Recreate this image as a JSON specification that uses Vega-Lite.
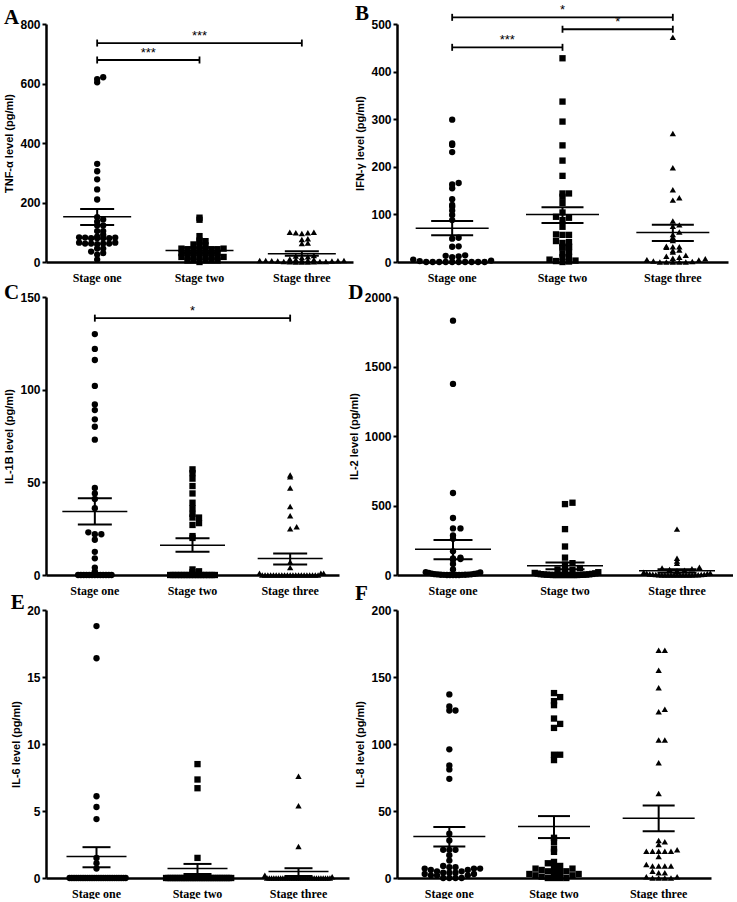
{
"$schema":"https://vega.github.io/schema/vega-lite/v6.json",
"background":"white",
"padding":{"left":3,"top":3,"right":0,"bottom":0},
"config":{
 "view":{"stroke":null},
 "font":"Liberation Sans",
 "axis":{"grid":false,"domainColor":"#000","domainWidth":2.5,"tickColor":"#000","labelColor":"#000","titleColor":"#000"},
 "axisY":{"tickSize":4,"tickWidth":2,"labelFont":"Liberation Sans","labelFontWeight":"bold","labelFontSize":12,"labelPadding":2,"titleFont":"Liberation Sans","titleFontWeight":"bold","titleFontSize":11,"titlePadding":5},
 "axisX":{"ticks":false,"labelFont":"Liberation Serif","labelFontWeight":"bold","labelFontSize":12,"labelPadding":10,"labelAngle":0},
 "title":{"font":"Liberation Serif","fontSize":21,"fontWeight":"bold","anchor":"start","frame":"bounds","offset":0,"color":"#000"}
},
"datasets":{
"summ":[
{"p":"A","g":"Stage one","mean":152,"lo":124,"hi":178},
{"p":"A","g":"Stage two","mean":39,"lo":30,"hi":48},
{"p":"A","g":"Stage three","mean":28,"lo":21,"hi":36},
{"p":"B","g":"Stage one","mean":71,"lo":56,"hi":86},
{"p":"B","g":"Stage two","mean":100,"lo":82,"hi":115},
{"p":"B","g":"Stage three","mean":62,"lo":44,"hi":78},
{"p":"C","g":"Stage one","mean":34.3,"lo":27.2,"hi":41.4},
{"p":"C","g":"Stage two","mean":16.1,"lo":12.5,"hi":19.8},
{"p":"C","g":"Stage three","mean":8.9,"lo":5.6,"hi":11.6},
{"p":"D","g":"Stage one","mean":185,"lo":113,"hi":252},
{"p":"D","g":"Stage two","mean":66,"lo":42,"hi":90},
{"p":"D","g":"Stage three","mean":30,"lo":17,"hi":42},
{"p":"E","g":"Stage one","mean":1.6,"lo":0.8,"hi":2.3},
{"p":"E","g":"Stage two","mean":0.7,"lo":0.3,"hi":1.05},
{"p":"E","g":"Stage three","mean":0.48,"lo":0.15,"hi":0.73},
{"p":"F","g":"Stage one","mean":31,"lo":23.6,"hi":38.1},
{"p":"F","g":"Stage two","mean":38.4,"lo":29.8,"hi":46.2},
{"p":"F","g":"Stage three","mean":44.5,"lo":34.9,"hi":54.1}
],
"brk":[
{"p":"A","from":1,"to":3,"y":736,"label":"***"},
{"p":"A","from":1,"to":2,"y":679,"label":"***"},
{"p":"B","from":1,"to":3,"y":514,"label":"*"},
{"p":"B","from":2,"to":3,"y":489,"label":"*"},
{"p":"B","from":1,"to":2,"y":451,"label":"***"},
{"p":"C","from":1,"to":3,"y":138.6,"label":"*"}
],
"pts":[
{"p":"A","g":"Stage one","v":621},{"p":"A","g":"Stage one","v":615},{"p":"A","g":"Stage one","v":604},{"p":"A","g":"Stage one","v":330},{"p":"A","g":"Stage one","v":305},{"p":"A","g":"Stage one","v":278},{"p":"A","g":"Stage one","v":244},{"p":"A","g":"Stage one","v":210},{"p":"A","g":"Stage one","v":151},{"p":"A","g":"Stage one","v":143},{"p":"A","g":"Stage one","v":136},{"p":"A","g":"Stage one","v":123},{"p":"A","g":"Stage one","v":123},{"p":"A","g":"Stage one","v":104},{"p":"A","g":"Stage one","v":104},{"p":"A","g":"Stage one","v":92},{"p":"A","g":"Stage one","v":85},{"p":"A","g":"Stage one","v":83},{"p":"A","g":"Stage one","v":82},{"p":"A","g":"Stage one","v":82},{"p":"A","g":"Stage one","v":80},{"p":"A","g":"Stage one","v":80},{"p":"A","g":"Stage one","v":80},{"p":"A","g":"Stage one","v":80},{"p":"A","g":"Stage one","v":65},{"p":"A","g":"Stage one","v":65},{"p":"A","g":"Stage one","v":62},{"p":"A","g":"Stage one","v":62},{"p":"A","g":"Stage one","v":62},{"p":"A","g":"Stage one","v":62},{"p":"A","g":"Stage one","v":60},{"p":"A","g":"Stage one","v":45},{"p":"A","g":"Stage one","v":45},{"p":"A","g":"Stage one","v":35},{"p":"A","g":"Stage one","v":30},{"p":"A","g":"Stage one","v":25},{"p":"A","g":"Stage one","v":8},
{"p":"A","g":"Stage two","v":149},{"p":"A","g":"Stage two","v":142},{"p":"A","g":"Stage two","v":87},{"p":"A","g":"Stage two","v":72},{"p":"A","g":"Stage two","v":70},{"p":"A","g":"Stage two","v":67},{"p":"A","g":"Stage two","v":59},{"p":"A","g":"Stage two","v":56},{"p":"A","g":"Stage two","v":52},{"p":"A","g":"Stage two","v":45},{"p":"A","g":"Stage two","v":45},{"p":"A","g":"Stage two","v":43},{"p":"A","g":"Stage two","v":43},{"p":"A","g":"Stage two","v":43},{"p":"A","g":"Stage two","v":43},{"p":"A","g":"Stage two","v":43},{"p":"A","g":"Stage two","v":40},{"p":"A","g":"Stage two","v":30},{"p":"A","g":"Stage two","v":30},{"p":"A","g":"Stage two","v":30},{"p":"A","g":"Stage two","v":30},{"p":"A","g":"Stage two","v":30},{"p":"A","g":"Stage two","v":30},{"p":"A","g":"Stage two","v":30},{"p":"A","g":"Stage two","v":17},{"p":"A","g":"Stage two","v":17},{"p":"A","g":"Stage two","v":17},{"p":"A","g":"Stage two","v":17},{"p":"A","g":"Stage two","v":17},{"p":"A","g":"Stage two","v":17},{"p":"A","g":"Stage two","v":17},{"p":"A","g":"Stage two","v":17},{"p":"A","g":"Stage two","v":5},{"p":"A","g":"Stage two","v":5},{"p":"A","g":"Stage two","v":5},{"p":"A","g":"Stage two","v":5},{"p":"A","g":"Stage two","v":5},{"p":"A","g":"Stage two","v":0},
{"p":"A","g":"Stage three","v":100},{"p":"A","g":"Stage three","v":100},{"p":"A","g":"Stage three","v":98},{"p":"A","g":"Stage three","v":98},{"p":"A","g":"Stage three","v":96},{"p":"A","g":"Stage three","v":78},{"p":"A","g":"Stage three","v":76},{"p":"A","g":"Stage three","v":64},{"p":"A","g":"Stage three","v":62},{"p":"A","g":"Stage three","v":22},{"p":"A","g":"Stage three","v":20},{"p":"A","g":"Stage three","v":18},{"p":"A","g":"Stage three","v":15},{"p":"A","g":"Stage three","v":10},{"p":"A","g":"Stage three","v":8},{"p":"A","g":"Stage three","v":8},{"p":"A","g":"Stage three","v":6},{"p":"A","g":"Stage three","v":6},{"p":"A","g":"Stage three","v":5},{"p":"A","g":"Stage three","v":5},{"p":"A","g":"Stage three","v":5},{"p":"A","g":"Stage three","v":4},{"p":"A","g":"Stage three","v":4},{"p":"A","g":"Stage three","v":3},{"p":"A","g":"Stage three","v":3},{"p":"A","g":"Stage three","v":2},{"p":"A","g":"Stage three","v":2},{"p":"A","g":"Stage three","v":2},{"p":"A","g":"Stage three","v":1},{"p":"A","g":"Stage three","v":1},{"p":"A","g":"Stage three","v":0},{"p":"A","g":"Stage three","v":0},{"p":"A","g":"Stage three","v":0},
{"p":"B","g":"Stage one","v":299},{"p":"B","g":"Stage one","v":249},{"p":"B","g":"Stage one","v":246},{"p":"B","g":"Stage one","v":231},{"p":"B","g":"Stage one","v":166},{"p":"B","g":"Stage one","v":163},{"p":"B","g":"Stage one","v":155},{"p":"B","g":"Stage one","v":132},{"p":"B","g":"Stage one","v":120},{"p":"B","g":"Stage one","v":116},{"p":"B","g":"Stage one","v":108},{"p":"B","g":"Stage one","v":99},{"p":"B","g":"Stage one","v":88},{"p":"B","g":"Stage one","v":51},{"p":"B","g":"Stage one","v":49},{"p":"B","g":"Stage one","v":33},{"p":"B","g":"Stage one","v":32},{"p":"B","g":"Stage one","v":14},{"p":"B","g":"Stage one","v":13},{"p":"B","g":"Stage one","v":12},{"p":"B","g":"Stage one","v":10},{"p":"B","g":"Stage one","v":5},{"p":"B","g":"Stage one","v":3},{"p":"B","g":"Stage one","v":2},{"p":"B","g":"Stage one","v":0},{"p":"B","g":"Stage one","v":0},{"p":"B","g":"Stage one","v":0},{"p":"B","g":"Stage one","v":0},{"p":"B","g":"Stage one","v":0},{"p":"B","g":"Stage one","v":0},{"p":"B","g":"Stage one","v":0},{"p":"B","g":"Stage one","v":0},{"p":"B","g":"Stage one","v":0},{"p":"B","g":"Stage one","v":0},
{"p":"B","g":"Stage two","v":428},{"p":"B","g":"Stage two","v":337},{"p":"B","g":"Stage two","v":295},{"p":"B","g":"Stage two","v":245},{"p":"B","g":"Stage two","v":213},{"p":"B","g":"Stage two","v":181},{"p":"B","g":"Stage two","v":144},{"p":"B","g":"Stage two","v":144},{"p":"B","g":"Stage two","v":137},{"p":"B","g":"Stage two","v":124},{"p":"B","g":"Stage two","v":104},{"p":"B","g":"Stage two","v":95},{"p":"B","g":"Stage two","v":93},{"p":"B","g":"Stage two","v":88},{"p":"B","g":"Stage two","v":74},{"p":"B","g":"Stage two","v":58},{"p":"B","g":"Stage two","v":57},{"p":"B","g":"Stage two","v":57},{"p":"B","g":"Stage two","v":44},{"p":"B","g":"Stage two","v":42},{"p":"B","g":"Stage two","v":40},{"p":"B","g":"Stage two","v":33},{"p":"B","g":"Stage two","v":32},{"p":"B","g":"Stage two","v":31},{"p":"B","g":"Stage two","v":30},{"p":"B","g":"Stage two","v":21},{"p":"B","g":"Stage two","v":18},{"p":"B","g":"Stage two","v":11},{"p":"B","g":"Stage two","v":10},{"p":"B","g":"Stage two","v":5},{"p":"B","g":"Stage two","v":3},{"p":"B","g":"Stage two","v":2},{"p":"B","g":"Stage two","v":1},{"p":"B","g":"Stage two","v":0},
{"p":"B","g":"Stage three","v":472},{"p":"B","g":"Stage three","v":270},{"p":"B","g":"Stage three","v":198},{"p":"B","g":"Stage three","v":152},{"p":"B","g":"Stage three","v":135},{"p":"B","g":"Stage three","v":130},{"p":"B","g":"Stage three","v":86},{"p":"B","g":"Stage three","v":78},{"p":"B","g":"Stage three","v":75},{"p":"B","g":"Stage three","v":63},{"p":"B","g":"Stage three","v":58},{"p":"B","g":"Stage three","v":52},{"p":"B","g":"Stage three","v":45},{"p":"B","g":"Stage three","v":33},{"p":"B","g":"Stage three","v":32},{"p":"B","g":"Stage three","v":32},{"p":"B","g":"Stage three","v":31},{"p":"B","g":"Stage three","v":25},{"p":"B","g":"Stage three","v":24},{"p":"B","g":"Stage three","v":21},{"p":"B","g":"Stage three","v":14},{"p":"B","g":"Stage three","v":12},{"p":"B","g":"Stage three","v":10},{"p":"B","g":"Stage three","v":8},{"p":"B","g":"Stage three","v":7},{"p":"B","g":"Stage three","v":5},{"p":"B","g":"Stage three","v":4},{"p":"B","g":"Stage three","v":2},{"p":"B","g":"Stage three","v":1},{"p":"B","g":"Stage three","v":0},{"p":"B","g":"Stage three","v":0},{"p":"B","g":"Stage three","v":0},{"p":"B","g":"Stage three","v":0},{"p":"B","g":"Stage three","v":0},
{"p":"C","g":"Stage one","v":130},{"p":"C","g":"Stage one","v":122},{"p":"C","g":"Stage one","v":116},{"p":"C","g":"Stage one","v":102},{"p":"C","g":"Stage one","v":92},{"p":"C","g":"Stage one","v":89},{"p":"C","g":"Stage one","v":84},{"p":"C","g":"Stage one","v":80},{"p":"C","g":"Stage one","v":73},{"p":"C","g":"Stage one","v":47},{"p":"C","g":"Stage one","v":44},{"p":"C","g":"Stage one","v":41},{"p":"C","g":"Stage one","v":36},{"p":"C","g":"Stage one","v":23},{"p":"C","g":"Stage one","v":22},{"p":"C","g":"Stage one","v":22},{"p":"C","g":"Stage one","v":19},{"p":"C","g":"Stage one","v":12.5},{"p":"C","g":"Stage one","v":9},{"p":"C","g":"Stage one","v":4},{"p":"C","g":"Stage one","v":2},{"p":"C","g":"Stage one","v":0},{"p":"C","g":"Stage one","v":0},{"p":"C","g":"Stage one","v":0},{"p":"C","g":"Stage one","v":0},{"p":"C","g":"Stage one","v":0},{"p":"C","g":"Stage one","v":0},{"p":"C","g":"Stage one","v":0},{"p":"C","g":"Stage one","v":0},{"p":"C","g":"Stage one","v":0},{"p":"C","g":"Stage one","v":0},{"p":"C","g":"Stage one","v":0},{"p":"C","g":"Stage one","v":0},{"p":"C","g":"Stage one","v":0},
{"p":"C","g":"Stage two","v":57},{"p":"C","g":"Stage two","v":55},{"p":"C","g":"Stage two","v":52},{"p":"C","g":"Stage two","v":48},{"p":"C","g":"Stage two","v":44},{"p":"C","g":"Stage two","v":39},{"p":"C","g":"Stage two","v":36},{"p":"C","g":"Stage two","v":33},{"p":"C","g":"Stage two","v":31},{"p":"C","g":"Stage two","v":31},{"p":"C","g":"Stage two","v":28},{"p":"C","g":"Stage two","v":27},{"p":"C","g":"Stage two","v":21},{"p":"C","g":"Stage two","v":20},{"p":"C","g":"Stage two","v":3},{"p":"C","g":"Stage two","v":2},{"p":"C","g":"Stage two","v":1.5},{"p":"C","g":"Stage two","v":0},{"p":"C","g":"Stage two","v":0},{"p":"C","g":"Stage two","v":0},{"p":"C","g":"Stage two","v":0},{"p":"C","g":"Stage two","v":0},{"p":"C","g":"Stage two","v":0},{"p":"C","g":"Stage two","v":0},{"p":"C","g":"Stage two","v":0},{"p":"C","g":"Stage two","v":0},{"p":"C","g":"Stage two","v":0},{"p":"C","g":"Stage two","v":0},{"p":"C","g":"Stage two","v":0},{"p":"C","g":"Stage two","v":0},{"p":"C","g":"Stage two","v":0},{"p":"C","g":"Stage two","v":0},{"p":"C","g":"Stage two","v":0},{"p":"C","g":"Stage two","v":0},
{"p":"C","g":"Stage three","v":54},{"p":"C","g":"Stage three","v":53},{"p":"C","g":"Stage three","v":47},{"p":"C","g":"Stage three","v":37},{"p":"C","g":"Stage three","v":32},{"p":"C","g":"Stage three","v":26},{"p":"C","g":"Stage three","v":25},{"p":"C","g":"Stage three","v":7},{"p":"C","g":"Stage three","v":4},{"p":"C","g":"Stage three","v":1},{"p":"C","g":"Stage three","v":1},{"p":"C","g":"Stage three","v":1},{"p":"C","g":"Stage three","v":0},{"p":"C","g":"Stage three","v":0},{"p":"C","g":"Stage three","v":0},{"p":"C","g":"Stage three","v":0},{"p":"C","g":"Stage three","v":0},{"p":"C","g":"Stage three","v":0},{"p":"C","g":"Stage three","v":0},{"p":"C","g":"Stage three","v":0},{"p":"C","g":"Stage three","v":0},{"p":"C","g":"Stage three","v":0},{"p":"C","g":"Stage three","v":0},{"p":"C","g":"Stage three","v":0},{"p":"C","g":"Stage three","v":0},{"p":"C","g":"Stage three","v":0},{"p":"C","g":"Stage three","v":0},{"p":"C","g":"Stage three","v":0},{"p":"C","g":"Stage three","v":0},{"p":"C","g":"Stage three","v":0},{"p":"C","g":"Stage three","v":0},{"p":"C","g":"Stage three","v":0},{"p":"C","g":"Stage three","v":0},
{"p":"D","g":"Stage one","v":1830},{"p":"D","g":"Stage one","v":1375},{"p":"D","g":"Stage one","v":590},{"p":"D","g":"Stage one","v":410},{"p":"D","g":"Stage one","v":335},{"p":"D","g":"Stage one","v":335},{"p":"D","g":"Stage one","v":285},{"p":"D","g":"Stage one","v":260},{"p":"D","g":"Stage one","v":170},{"p":"D","g":"Stage one","v":125},{"p":"D","g":"Stage one","v":120},{"p":"D","g":"Stage one","v":115},{"p":"D","g":"Stage one","v":110},{"p":"D","g":"Stage one","v":80},{"p":"D","g":"Stage one","v":40},{"p":"D","g":"Stage one","v":20},{"p":"D","g":"Stage one","v":18},{"p":"D","g":"Stage one","v":15},{"p":"D","g":"Stage one","v":12},{"p":"D","g":"Stage one","v":10},{"p":"D","g":"Stage one","v":8},{"p":"D","g":"Stage one","v":6},{"p":"D","g":"Stage one","v":5},{"p":"D","g":"Stage one","v":4},{"p":"D","g":"Stage one","v":3},{"p":"D","g":"Stage one","v":2},{"p":"D","g":"Stage one","v":2},{"p":"D","g":"Stage one","v":1},{"p":"D","g":"Stage one","v":1},{"p":"D","g":"Stage one","v":0},{"p":"D","g":"Stage one","v":0},{"p":"D","g":"Stage one","v":0},{"p":"D","g":"Stage one","v":0},{"p":"D","g":"Stage one","v":0},
{"p":"D","g":"Stage two","v":520},{"p":"D","g":"Stage two","v":510},{"p":"D","g":"Stage two","v":330},{"p":"D","g":"Stage two","v":205},{"p":"D","g":"Stage two","v":125},{"p":"D","g":"Stage two","v":85},{"p":"D","g":"Stage two","v":75},{"p":"D","g":"Stage two","v":50},{"p":"D","g":"Stage two","v":40},{"p":"D","g":"Stage two","v":35},{"p":"D","g":"Stage two","v":35},{"p":"D","g":"Stage two","v":25},{"p":"D","g":"Stage two","v":20},{"p":"D","g":"Stage two","v":15},{"p":"D","g":"Stage two","v":12},{"p":"D","g":"Stage two","v":10},{"p":"D","g":"Stage two","v":8},{"p":"D","g":"Stage two","v":6},{"p":"D","g":"Stage two","v":5},{"p":"D","g":"Stage two","v":4},{"p":"D","g":"Stage two","v":3},{"p":"D","g":"Stage two","v":2},{"p":"D","g":"Stage two","v":2},{"p":"D","g":"Stage two","v":1},{"p":"D","g":"Stage two","v":1},{"p":"D","g":"Stage two","v":0},{"p":"D","g":"Stage two","v":0},{"p":"D","g":"Stage two","v":0},{"p":"D","g":"Stage two","v":0},{"p":"D","g":"Stage two","v":0},{"p":"D","g":"Stage two","v":0},{"p":"D","g":"Stage two","v":0},{"p":"D","g":"Stage two","v":0},{"p":"D","g":"Stage two","v":0},
{"p":"D","g":"Stage three","v":330},{"p":"D","g":"Stage three","v":120},{"p":"D","g":"Stage three","v":100},{"p":"D","g":"Stage three","v":85},{"p":"D","g":"Stage three","v":55},{"p":"D","g":"Stage three","v":50},{"p":"D","g":"Stage three","v":45},{"p":"D","g":"Stage three","v":40},{"p":"D","g":"Stage three","v":35},{"p":"D","g":"Stage three","v":30},{"p":"D","g":"Stage three","v":25},{"p":"D","g":"Stage three","v":20},{"p":"D","g":"Stage three","v":15},{"p":"D","g":"Stage three","v":12},{"p":"D","g":"Stage three","v":10},{"p":"D","g":"Stage three","v":8},{"p":"D","g":"Stage three","v":6},{"p":"D","g":"Stage three","v":5},{"p":"D","g":"Stage three","v":4},{"p":"D","g":"Stage three","v":3},{"p":"D","g":"Stage three","v":2},{"p":"D","g":"Stage three","v":1},{"p":"D","g":"Stage three","v":1},{"p":"D","g":"Stage three","v":0},{"p":"D","g":"Stage three","v":0},{"p":"D","g":"Stage three","v":0},{"p":"D","g":"Stage three","v":0},{"p":"D","g":"Stage three","v":0},{"p":"D","g":"Stage three","v":0},{"p":"D","g":"Stage three","v":0},{"p":"D","g":"Stage three","v":0},{"p":"D","g":"Stage three","v":0},{"p":"D","g":"Stage three","v":0},{"p":"D","g":"Stage three","v":0},
{"p":"E","g":"Stage one","v":18.8},{"p":"E","g":"Stage one","v":16.4},{"p":"E","g":"Stage one","v":6.1},{"p":"E","g":"Stage one","v":5.3},{"p":"E","g":"Stage one","v":4.4},{"p":"E","g":"Stage one","v":1.5},{"p":"E","g":"Stage one","v":1.1},{"p":"E","g":"Stage one","v":0.7},{"p":"E","g":"Stage one","v":0},{"p":"E","g":"Stage one","v":0},{"p":"E","g":"Stage one","v":0},{"p":"E","g":"Stage one","v":0},{"p":"E","g":"Stage one","v":0},{"p":"E","g":"Stage one","v":0},{"p":"E","g":"Stage one","v":0},{"p":"E","g":"Stage one","v":0},{"p":"E","g":"Stage one","v":0},{"p":"E","g":"Stage one","v":0},{"p":"E","g":"Stage one","v":0},{"p":"E","g":"Stage one","v":0},{"p":"E","g":"Stage one","v":0},{"p":"E","g":"Stage one","v":0},{"p":"E","g":"Stage one","v":0},{"p":"E","g":"Stage one","v":0},{"p":"E","g":"Stage one","v":0},{"p":"E","g":"Stage one","v":0},{"p":"E","g":"Stage one","v":0},{"p":"E","g":"Stage one","v":0},{"p":"E","g":"Stage one","v":0},{"p":"E","g":"Stage one","v":0},{"p":"E","g":"Stage one","v":0},{"p":"E","g":"Stage one","v":0},{"p":"E","g":"Stage one","v":0},{"p":"E","g":"Stage one","v":0},
{"p":"E","g":"Stage two","v":8.5},{"p":"E","g":"Stage two","v":7.35},{"p":"E","g":"Stage two","v":6.7},{"p":"E","g":"Stage two","v":1.5},{"p":"E","g":"Stage two","v":0},{"p":"E","g":"Stage two","v":0},{"p":"E","g":"Stage two","v":0},{"p":"E","g":"Stage two","v":0},{"p":"E","g":"Stage two","v":0},{"p":"E","g":"Stage two","v":0},{"p":"E","g":"Stage two","v":0},{"p":"E","g":"Stage two","v":0},{"p":"E","g":"Stage two","v":0},{"p":"E","g":"Stage two","v":0},{"p":"E","g":"Stage two","v":0},{"p":"E","g":"Stage two","v":0},{"p":"E","g":"Stage two","v":0},{"p":"E","g":"Stage two","v":0},{"p":"E","g":"Stage two","v":0},{"p":"E","g":"Stage two","v":0},{"p":"E","g":"Stage two","v":0},{"p":"E","g":"Stage two","v":0},{"p":"E","g":"Stage two","v":0},{"p":"E","g":"Stage two","v":0},{"p":"E","g":"Stage two","v":0},{"p":"E","g":"Stage two","v":0},{"p":"E","g":"Stage two","v":0},{"p":"E","g":"Stage two","v":0},{"p":"E","g":"Stage two","v":0},{"p":"E","g":"Stage two","v":0},{"p":"E","g":"Stage two","v":0},{"p":"E","g":"Stage two","v":0},{"p":"E","g":"Stage two","v":0},{"p":"E","g":"Stage two","v":0},
{"p":"E","g":"Stage three","v":7.6},{"p":"E","g":"Stage three","v":5.4},{"p":"E","g":"Stage three","v":2.35},{"p":"E","g":"Stage three","v":0.2},{"p":"E","g":"Stage three","v":0.1},{"p":"E","g":"Stage three","v":0},{"p":"E","g":"Stage three","v":0},{"p":"E","g":"Stage three","v":0},{"p":"E","g":"Stage three","v":0},{"p":"E","g":"Stage three","v":0},{"p":"E","g":"Stage three","v":0},{"p":"E","g":"Stage three","v":0},{"p":"E","g":"Stage three","v":0},{"p":"E","g":"Stage three","v":0},{"p":"E","g":"Stage three","v":0},{"p":"E","g":"Stage three","v":0},{"p":"E","g":"Stage three","v":0},{"p":"E","g":"Stage three","v":0},{"p":"E","g":"Stage three","v":0},{"p":"E","g":"Stage three","v":0},{"p":"E","g":"Stage three","v":0},{"p":"E","g":"Stage three","v":0},{"p":"E","g":"Stage three","v":0},{"p":"E","g":"Stage three","v":0},{"p":"E","g":"Stage three","v":0},{"p":"E","g":"Stage three","v":0},{"p":"E","g":"Stage three","v":0},{"p":"E","g":"Stage three","v":0},{"p":"E","g":"Stage three","v":0},{"p":"E","g":"Stage three","v":0},{"p":"E","g":"Stage three","v":0},{"p":"E","g":"Stage three","v":0},{"p":"E","g":"Stage three","v":0},{"p":"E","g":"Stage three","v":0},
{"p":"F","g":"Stage one","v":137},{"p":"F","g":"Stage one","v":128},{"p":"F","g":"Stage one","v":125},{"p":"F","g":"Stage one","v":125},{"p":"F","g":"Stage one","v":96},{"p":"F","g":"Stage one","v":84},{"p":"F","g":"Stage one","v":81},{"p":"F","g":"Stage one","v":74},{"p":"F","g":"Stage one","v":33},{"p":"F","g":"Stage one","v":28},{"p":"F","g":"Stage one","v":21},{"p":"F","g":"Stage one","v":21},{"p":"F","g":"Stage one","v":21},{"p":"F","g":"Stage one","v":17},{"p":"F","g":"Stage one","v":13},{"p":"F","g":"Stage one","v":9},{"p":"F","g":"Stage one","v":8},{"p":"F","g":"Stage one","v":8},{"p":"F","g":"Stage one","v":7},{"p":"F","g":"Stage one","v":7},{"p":"F","g":"Stage one","v":7},{"p":"F","g":"Stage one","v":6},{"p":"F","g":"Stage one","v":6},{"p":"F","g":"Stage one","v":5},{"p":"F","g":"Stage one","v":5},{"p":"F","g":"Stage one","v":4},{"p":"F","g":"Stage one","v":4},{"p":"F","g":"Stage one","v":4},{"p":"F","g":"Stage one","v":3},{"p":"F","g":"Stage one","v":3},{"p":"F","g":"Stage one","v":2},{"p":"F","g":"Stage one","v":2},{"p":"F","g":"Stage one","v":2},{"p":"F","g":"Stage one","v":0},{"p":"F","g":"Stage one","v":0},{"p":"F","g":"Stage one","v":0},{"p":"F","g":"Stage one","v":0},
{"p":"F","g":"Stage two","v":138},{"p":"F","g":"Stage two","v":135},{"p":"F","g":"Stage two","v":132},{"p":"F","g":"Stage two","v":129},{"p":"F","g":"Stage two","v":119},{"p":"F","g":"Stage two","v":115},{"p":"F","g":"Stage two","v":112},{"p":"F","g":"Stage two","v":92},{"p":"F","g":"Stage two","v":92},{"p":"F","g":"Stage two","v":88},{"p":"F","g":"Stage two","v":30},{"p":"F","g":"Stage two","v":27},{"p":"F","g":"Stage two","v":22},{"p":"F","g":"Stage two","v":19.5},{"p":"F","g":"Stage two","v":12},{"p":"F","g":"Stage two","v":11},{"p":"F","g":"Stage two","v":9},{"p":"F","g":"Stage two","v":8},{"p":"F","g":"Stage two","v":7},{"p":"F","g":"Stage two","v":7},{"p":"F","g":"Stage two","v":6},{"p":"F","g":"Stage two","v":5},{"p":"F","g":"Stage two","v":5},{"p":"F","g":"Stage two","v":4.5},{"p":"F","g":"Stage two","v":4},{"p":"F","g":"Stage two","v":3},{"p":"F","g":"Stage two","v":3},{"p":"F","g":"Stage two","v":2},{"p":"F","g":"Stage two","v":2},{"p":"F","g":"Stage two","v":1},{"p":"F","g":"Stage two","v":0},{"p":"F","g":"Stage two","v":0},{"p":"F","g":"Stage two","v":0},{"p":"F","g":"Stage two","v":0},
{"p":"F","g":"Stage three","v":170},{"p":"F","g":"Stage three","v":170},{"p":"F","g":"Stage three","v":155},{"p":"F","g":"Stage three","v":142},{"p":"F","g":"Stage three","v":126},{"p":"F","g":"Stage three","v":124},{"p":"F","g":"Stage three","v":103},{"p":"F","g":"Stage three","v":103},{"p":"F","g":"Stage three","v":86},{"p":"F","g":"Stage three","v":63},{"p":"F","g":"Stage three","v":28},{"p":"F","g":"Stage three","v":27},{"p":"F","g":"Stage three","v":25},{"p":"F","g":"Stage three","v":21},{"p":"F","g":"Stage three","v":20},{"p":"F","g":"Stage three","v":20},{"p":"F","g":"Stage three","v":20},{"p":"F","g":"Stage three","v":20},{"p":"F","g":"Stage three","v":20},{"p":"F","g":"Stage three","v":16},{"p":"F","g":"Stage three","v":10},{"p":"F","g":"Stage three","v":9},{"p":"F","g":"Stage three","v":9},{"p":"F","g":"Stage three","v":9},{"p":"F","g":"Stage three","v":9},{"p":"F","g":"Stage three","v":5},{"p":"F","g":"Stage three","v":4},{"p":"F","g":"Stage three","v":4},{"p":"F","g":"Stage three","v":1},{"p":"F","g":"Stage three","v":1},{"p":"F","g":"Stage three","v":0},{"p":"F","g":"Stage three","v":0},{"p":"F","g":"Stage three","v":0},{"p":"F","g":"Stage three","v":0}
]
},
"bounds":"flush",
"columns":2,
"spacing":{"row":35,"column":44},
"concat":[
 {"title":{"text":"A","offset":-10},"width":307,"height":238,
  "resolve":{"scale":{"x":"independent","xOffset":"independent"}},
  "layer":[
   {"data":{"name":"pts"},
    "transform":[{"filter":"datum.p === 'A' && datum.v >= 12"},{"bin":{"step":12},"field":"v","as":"vb"},{"window":[{"op":"row_number","as":"slot"}],"groupby":["g","vb"],"sort":[{"field":"v"}]}],
    "mark":{"type":"point","filled":true,"opacity":1,"size":40,"color":"black","strokeWidth":0},
    "encoding":{
     "x":{"field":"g","type":"nominal","scale":{"type":"band","domain":["Stage one","Stage two","Stage three"],"paddingInner":0,"paddingOuter":0},"axis":{"title":null}},
     "xOffset":{"field":"slot","type":"ordinal","scale":{"domain":[17,15,13,11,9,7,5,3,1,2,4,6,8,10,12,14,16]}},
     "y":{"field":"v","type":"quantitative","scale":{"domain":[0,800],"nice":false},"axis":{"values":[0,200,400,600,800],"format":"d","title":"TNF-α level (pg/ml)"}},
     "shape":{"field":"g","type":"nominal","scale":{"domain":["Stage one","Stage two","Stage three"],"range":["circle","square","triangle-up"]},"legend":null}}},
   {"data":{"name":"pts"},
    "transform":[{"filter":"datum.p === 'A' && datum.v < 12"},{"bin":{"step":6},"field":"v","as":"vb"},{"window":[{"op":"row_number","as":"slot"}],"groupby":["g","vb"],"sort":[{"field":"v"}]}],
    "mark":{"type":"point","filled":true,"opacity":1,"size":40,"color":"black","strokeWidth":0},
    "encoding":{
     "x":{"field":"g","type":"nominal","scale":{"type":"band","domain":["Stage one","Stage two","Stage three"],"paddingInner":0,"paddingOuter":0},"axis":null},
     "xOffset":{"field":"slot","type":"ordinal","scale":{"domain":[17,15,13,11,9,7,5,3,1,2,4,6,8,10,12,14,16]}},
     "y":{"field":"v","type":"quantitative","scale":{"domain":[0,800],"nice":false},"axis":{"values":[0,200,400,600,800],"format":"d","title":"TNF-α level (pg/ml)"}},
     "shape":{"field":"g","type":"nominal","scale":{"domain":["Stage one","Stage two","Stage three"],"range":["circle","square","triangle-up"]},"legend":null}}},
   {"data":{"name":"summ"},"transform":[{"filter":"datum.p === 'A'"}],
    "mark":{"type":"tick","orient":"horizontal","size":68,"thickness":1.5,"color":"black","opacity":1},
    "encoding":{"x":{"field":"g","type":"nominal","scale":{"type":"band","domain":["Stage one","Stage two","Stage three"],"paddingInner":0,"paddingOuter":0},"axis":null},
     "y":{"field":"mean","type":"quantitative","scale":{"domain":[0,800],"nice":false},"axis":{"values":[0,200,400,600,800],"format":"d","title":"TNF-α level (pg/ml)"}}}},
   {"data":{"name":"summ"},"transform":[{"filter":"datum.p === 'A'"}],
    "mark":{"type":"tick","orient":"horizontal","size":34,"thickness":2,"color":"black","opacity":1},
    "encoding":{"x":{"field":"g","type":"nominal","scale":{"type":"band","domain":["Stage one","Stage two","Stage three"],"paddingInner":0,"paddingOuter":0},"axis":null},
     "y":{"field":"hi","type":"quantitative","scale":{"domain":[0,800],"nice":false},"axis":{"values":[0,200,400,600,800],"format":"d","title":"TNF-α level (pg/ml)"}}}},
   {"data":{"name":"summ"},"transform":[{"filter":"datum.p === 'A'"}],
    "mark":{"type":"tick","orient":"horizontal","size":34,"thickness":2,"color":"black","opacity":1},
    "encoding":{"x":{"field":"g","type":"nominal","scale":{"type":"band","domain":["Stage one","Stage two","Stage three"],"paddingInner":0,"paddingOuter":0},"axis":null},
     "y":{"field":"lo","type":"quantitative","scale":{"domain":[0,800],"nice":false},"axis":{"values":[0,200,400,600,800],"format":"d","title":"TNF-α level (pg/ml)"}}}},
   {"data":{"name":"summ"},"transform":[{"filter":"datum.p === 'A'"}],
    "mark":{"type":"rule","strokeWidth":2,"color":"black"},
    "encoding":{"x":{"field":"g","type":"nominal","scale":{"type":"band","domain":["Stage one","Stage two","Stage three"],"paddingInner":0,"paddingOuter":0},"axis":null},
     "y":{"field":"lo","type":"quantitative","scale":{"domain":[0,800],"nice":false},"axis":{"values":[0,200,400,600,800],"format":"d","title":"TNF-α level (pg/ml)"}},"y2":{"field":"hi"}}},
   {"data":{"name":"brk"},"transform":[{"filter":"datum.p === 'A'"}],
    "mark":{"type":"rule","strokeWidth":1.8,"color":"black"},
    "encoding":{"x":{"field":"from","type":"quantitative","scale":{"domain":[0.5,3.5],"nice":false,"zero":false},"axis":null},"x2":{"field":"to"},
     "y":{"field":"y","type":"quantitative","scale":{"domain":[0,800],"nice":false},"axis":{"values":[0,200,400,600,800],"format":"d","title":"TNF-α level (pg/ml)"}}}},
   {"data":{"name":"brk"},"transform":[{"filter":"datum.p === 'A'"},{"fold":["from","to"],"as":["end","pos"]}],
    "mark":{"type":"tick","orient":"vertical","size":7,"thickness":1.8,"color":"black","opacity":1},
    "encoding":{"x":{"field":"pos","type":"quantitative","scale":{"domain":[0.5,3.5],"nice":false,"zero":false},"axis":null},
     "y":{"field":"y","type":"quantitative","scale":{"domain":[0,800],"nice":false},"axis":{"values":[0,200,400,600,800],"format":"d","title":"TNF-α level (pg/ml)"}}}},
   {"data":{"name":"brk"},"transform":[{"filter":"datum.p === 'A'"},{"fold":["from","to"],"as":["end","pos"]}],
    "mark":{"type":"text","fontSize":13,"font":"Liberation Sans","dy":-3,"baseline":"alphabetic","color":"black"},
    "encoding":{"x":{"field":"pos","aggregate":"mean","type":"quantitative","scale":{"domain":[0.5,3.5],"nice":false,"zero":false},"axis":null},
     "y":{"field":"y","type":"quantitative","scale":{"domain":[0,800],"nice":false},"axis":{"values":[0,200,400,600,800],"format":"d","title":"TNF-α level (pg/ml)"}},"text":{"field":"label"}}}
  ]},
 {"title":{"text":"B","offset":-20},"width":331,"height":238,
  "resolve":{"scale":{"x":"independent","xOffset":"independent"}},
  "layer":[
   {"data":{"name":"pts"},
    "transform":[{"filter":"datum.p === 'B'"},{"bin":{"step":8},"field":"v","as":"vb"},{"window":[{"op":"row_number","as":"slot"}],"groupby":["g","vb"],"sort":[{"field":"v"}]}],
    "mark":{"type":"point","filled":true,"opacity":1,"size":40,"color":"black","strokeWidth":0},
    "encoding":{
     "x":{"field":"g","type":"nominal","scale":{"type":"band","domain":["Stage one","Stage two","Stage three"],"paddingInner":0,"paddingOuter":0},"axis":{"title":null}},
     "xOffset":{"field":"slot","type":"ordinal","scale":{"domain":[17,15,13,11,9,7,5,3,1,2,4,6,8,10,12,14,16]}},
     "y":{"field":"v","type":"quantitative","scale":{"domain":[0,500],"nice":false},"axis":{"values":[0,100,200,300,400,500],"format":"d","title":"IFN-γ level (pg/ml)"}},
     "shape":{"field":"g","type":"nominal","scale":{"domain":["Stage one","Stage two","Stage three"],"range":["circle","square","triangle-up"]},"legend":null}}},
   {"data":{"name":"summ"},"transform":[{"filter":"datum.p === 'B'"}],
    "mark":{"type":"tick","orient":"horizontal","size":73,"thickness":1.5,"color":"black","opacity":1},
    "encoding":{"x":{"field":"g","type":"nominal","scale":{"type":"band","domain":["Stage one","Stage two","Stage three"],"paddingInner":0,"paddingOuter":0},"axis":null},
     "y":{"field":"mean","type":"quantitative","scale":{"domain":[0,500],"nice":false},"axis":{"values":[0,100,200,300,400,500],"format":"d","title":"IFN-γ level (pg/ml)"}}}},
   {"data":{"name":"summ"},"transform":[{"filter":"datum.p === 'B'"}],
    "mark":{"type":"tick","orient":"horizontal","size":42,"thickness":2,"color":"black","opacity":1},
    "encoding":{"x":{"field":"g","type":"nominal","scale":{"type":"band","domain":["Stage one","Stage two","Stage three"],"paddingInner":0,"paddingOuter":0},"axis":null},
     "y":{"field":"hi","type":"quantitative","scale":{"domain":[0,500],"nice":false},"axis":{"values":[0,100,200,300,400,500],"format":"d","title":"IFN-γ level (pg/ml)"}}}},
   {"data":{"name":"summ"},"transform":[{"filter":"datum.p === 'B'"}],
    "mark":{"type":"tick","orient":"horizontal","size":42,"thickness":2,"color":"black","opacity":1},
    "encoding":{"x":{"field":"g","type":"nominal","scale":{"type":"band","domain":["Stage one","Stage two","Stage three"],"paddingInner":0,"paddingOuter":0},"axis":null},
     "y":{"field":"lo","type":"quantitative","scale":{"domain":[0,500],"nice":false},"axis":{"values":[0,100,200,300,400,500],"format":"d","title":"IFN-γ level (pg/ml)"}}}},
   {"data":{"name":"summ"},"transform":[{"filter":"datum.p === 'B'"}],
    "mark":{"type":"rule","strokeWidth":2,"color":"black"},
    "encoding":{"x":{"field":"g","type":"nominal","scale":{"type":"band","domain":["Stage one","Stage two","Stage three"],"paddingInner":0,"paddingOuter":0},"axis":null},
     "y":{"field":"lo","type":"quantitative","scale":{"domain":[0,500],"nice":false},"axis":{"values":[0,100,200,300,400,500],"format":"d","title":"IFN-γ level (pg/ml)"}},"y2":{"field":"hi"}}},
   {"data":{"name":"brk"},"transform":[{"filter":"datum.p === 'B'"}],
    "mark":{"type":"rule","strokeWidth":1.8,"color":"black"},
    "encoding":{"x":{"field":"from","type":"quantitative","scale":{"domain":[0.5,3.5],"nice":false,"zero":false},"axis":null},"x2":{"field":"to"},
     "y":{"field":"y","type":"quantitative","scale":{"domain":[0,500],"nice":false},"axis":{"values":[0,100,200,300,400,500],"format":"d","title":"IFN-γ level (pg/ml)"}}}},
   {"data":{"name":"brk"},"transform":[{"filter":"datum.p === 'B'"},{"fold":["from","to"],"as":["end","pos"]}],
    "mark":{"type":"tick","orient":"vertical","size":7,"thickness":1.8,"color":"black","opacity":1},
    "encoding":{"x":{"field":"pos","type":"quantitative","scale":{"domain":[0.5,3.5],"nice":false,"zero":false},"axis":null},
     "y":{"field":"y","type":"quantitative","scale":{"domain":[0,500],"nice":false},"axis":{"values":[0,100,200,300,400,500],"format":"d","title":"IFN-γ level (pg/ml)"}}}},
   {"data":{"name":"brk"},"transform":[{"filter":"datum.p === 'B'"},{"fold":["from","to"],"as":["end","pos"]}],
    "mark":{"type":"text","fontSize":13,"font":"Liberation Sans","dy":-3,"baseline":"alphabetic","color":"black"},
    "encoding":{"x":{"field":"pos","aggregate":"mean","type":"quantitative","scale":{"domain":[0.5,3.5],"nice":false,"zero":false},"axis":null},
     "y":{"field":"y","type":"quantitative","scale":{"domain":[0,500],"nice":false},"axis":{"values":[0,100,200,300,400,500],"format":"d","title":"IFN-γ level (pg/ml)"}},"text":{"field":"label"}}}
  ]},
 {"title":{"text":"C","offset":-12},"width":293,"height":278,
  "resolve":{"scale":{"x":"independent","xOffset":"independent"}},
  "layer":[
   {"data":{"name":"pts"},
    "transform":[{"filter":"datum.p === 'C' && datum.v >= 1.2"},{"bin":{"step":3},"field":"v","as":"vb"},{"window":[{"op":"row_number","as":"slot"}],"groupby":["g","vb"],"sort":[{"field":"v"}]}],
    "mark":{"type":"point","filled":true,"opacity":1,"size":40,"color":"black","strokeWidth":0},
    "encoding":{
     "x":{"field":"g","type":"nominal","scale":{"type":"band","domain":["Stage one","Stage two","Stage three"],"paddingInner":0,"paddingOuter":0},"axis":{"title":null}},
     "xOffset":{"field":"slot","type":"ordinal","scale":{"domain":[15,13,11,9,7,5,3,1,2,4,6,8,10,12,14]}},
     "y":{"field":"v","type":"quantitative","scale":{"domain":[0,150],"nice":false},"axis":{"values":[0,50,100,150],"format":"d","title":"IL-1B level (pg/ml)"}},
     "shape":{"field":"g","type":"nominal","scale":{"domain":["Stage one","Stage two","Stage three"],"range":["circle","square","triangle-up"]},"legend":null}}},
   {"data":{"name":"pts"},
    "transform":[{"filter":"datum.p === 'C' && datum.v < 1.2"},{"window":[{"op":"row_number","as":"slot"}],"groupby":["g"],"sort":[{"field":"v"}]}],
    "mark":{"type":"point","filled":true,"opacity":1,"size":40,"color":"black","strokeWidth":0},
    "encoding":{
     "x":{"field":"g","type":"nominal","scale":{"type":"band","domain":["Stage one","Stage two","Stage three"],"paddingInner":0,"paddingOuter":0},"axis":null},
     "xOffset":{"field":"slot","type":"ordinal","scale":{"domain":[35,33,31,29,27,25,23,21,19,17,15,13,11,9,7,5,3,1,2,4,6,8,10,12,14,16,18,20,22,24,26,28,30,32,34]}},
     "y":{"field":"v","type":"quantitative","scale":{"domain":[0,150],"nice":false},"axis":{"values":[0,50,100,150],"format":"d","title":"IL-1B level (pg/ml)"}},
     "shape":{"field":"g","type":"nominal","scale":{"domain":["Stage one","Stage two","Stage three"],"range":["circle","square","triangle-up"]},"legend":null}}},
   {"data":{"name":"summ"},"transform":[{"filter":"datum.p === 'C'"}],
    "mark":{"type":"tick","orient":"horizontal","size":65,"thickness":1.5,"color":"black","opacity":1},
    "encoding":{"x":{"field":"g","type":"nominal","scale":{"type":"band","domain":["Stage one","Stage two","Stage three"],"paddingInner":0,"paddingOuter":0},"axis":null},
     "y":{"field":"mean","type":"quantitative","scale":{"domain":[0,150],"nice":false},"axis":{"values":[0,50,100,150],"format":"d","title":"IL-1B level (pg/ml)"}}}},
   {"data":{"name":"summ"},"transform":[{"filter":"datum.p === 'C'"}],
    "mark":{"type":"tick","orient":"horizontal","size":34,"thickness":2,"color":"black","opacity":1},
    "encoding":{"x":{"field":"g","type":"nominal","scale":{"type":"band","domain":["Stage one","Stage two","Stage three"],"paddingInner":0,"paddingOuter":0},"axis":null},
     "y":{"field":"hi","type":"quantitative","scale":{"domain":[0,150],"nice":false},"axis":{"values":[0,50,100,150],"format":"d","title":"IL-1B level (pg/ml)"}}}},
   {"data":{"name":"summ"},"transform":[{"filter":"datum.p === 'C'"}],
    "mark":{"type":"tick","orient":"horizontal","size":34,"thickness":2,"color":"black","opacity":1},
    "encoding":{"x":{"field":"g","type":"nominal","scale":{"type":"band","domain":["Stage one","Stage two","Stage three"],"paddingInner":0,"paddingOuter":0},"axis":null},
     "y":{"field":"lo","type":"quantitative","scale":{"domain":[0,150],"nice":false},"axis":{"values":[0,50,100,150],"format":"d","title":"IL-1B level (pg/ml)"}}}},
   {"data":{"name":"summ"},"transform":[{"filter":"datum.p === 'C'"}],
    "mark":{"type":"rule","strokeWidth":2,"color":"black"},
    "encoding":{"x":{"field":"g","type":"nominal","scale":{"type":"band","domain":["Stage one","Stage two","Stage three"],"paddingInner":0,"paddingOuter":0},"axis":null},
     "y":{"field":"lo","type":"quantitative","scale":{"domain":[0,150],"nice":false},"axis":{"values":[0,50,100,150],"format":"d","title":"IL-1B level (pg/ml)"}},"y2":{"field":"hi"}}},
   {"data":{"name":"brk"},"transform":[{"filter":"datum.p === 'C'"}],
    "mark":{"type":"rule","strokeWidth":1.8,"color":"black"},
    "encoding":{"x":{"field":"from","type":"quantitative","scale":{"domain":[0.5,3.5],"nice":false,"zero":false},"axis":null},"x2":{"field":"to"},
     "y":{"field":"y","type":"quantitative","scale":{"domain":[0,150],"nice":false},"axis":{"values":[0,50,100,150],"format":"d","title":"IL-1B level (pg/ml)"}}}},
   {"data":{"name":"brk"},"transform":[{"filter":"datum.p === 'C'"},{"fold":["from","to"],"as":["end","pos"]}],
    "mark":{"type":"tick","orient":"vertical","size":7,"thickness":1.8,"color":"black","opacity":1},
    "encoding":{"x":{"field":"pos","type":"quantitative","scale":{"domain":[0.5,3.5],"nice":false,"zero":false},"axis":null},
     "y":{"field":"y","type":"quantitative","scale":{"domain":[0,150],"nice":false},"axis":{"values":[0,50,100,150],"format":"d","title":"IL-1B level (pg/ml)"}}}},
   {"data":{"name":"brk"},"transform":[{"filter":"datum.p === 'C'"},{"fold":["from","to"],"as":["end","pos"]}],
    "mark":{"type":"text","fontSize":13,"font":"Liberation Sans","dy":-3,"baseline":"alphabetic","color":"black"},
    "encoding":{"x":{"field":"pos","aggregate":"mean","type":"quantitative","scale":{"domain":[0.5,3.5],"nice":false,"zero":false},"axis":null},
     "y":{"field":"y","type":"quantitative","scale":{"domain":[0,150],"nice":false},"axis":{"values":[0,50,100,150],"format":"d","title":"IL-1B level (pg/ml)"}},"text":{"field":"label"}}}
  ]},
 {"title":{"text":"D","offset":-12},"width":336,"height":278,
  "resolve":{"scale":{"x":"independent","xOffset":"independent"}},
  "layer":[
   {"data":{"name":"pts"},
    "transform":[{"filter":"datum.p === 'D' && datum.v >= 25"},{"bin":{"step":30},"field":"v","as":"vb"},{"window":[{"op":"row_number","as":"slot"}],"groupby":["g","vb"],"sort":[{"field":"v"}]}],
    "mark":{"type":"point","filled":true,"opacity":1,"size":40,"color":"black","strokeWidth":0},
    "encoding":{
     "x":{"field":"g","type":"nominal","scale":{"type":"band","domain":["Stage one","Stage two","Stage three"],"paddingInner":0,"paddingOuter":0},"axis":{"title":null}},
     "xOffset":{"field":"slot","type":"ordinal","scale":{"domain":[15,13,11,9,7,5,3,1,2,4,6,8,10,12,14]}},
     "y":{"field":"v","type":"quantitative","scale":{"domain":[0,2000],"nice":false},"axis":{"values":[0,500,1000,1500,2000],"format":"d","title":"IL-2 level (pg/ml)"}},
     "shape":{"field":"g","type":"nominal","scale":{"domain":["Stage one","Stage two","Stage three"],"range":["circle","square","triangle-up"]},"legend":null}}},
   {"data":{"name":"pts"},
    "transform":[{"filter":"datum.p === 'D' && datum.v < 25"},{"window":[{"op":"row_number","as":"slot"}],"groupby":["g"],"sort":[{"field":"v"}]}],
    "mark":{"type":"point","filled":true,"opacity":1,"size":40,"color":"black","strokeWidth":0},
    "encoding":{
     "x":{"field":"g","type":"nominal","scale":{"type":"band","domain":["Stage one","Stage two","Stage three"],"paddingInner":0,"paddingOuter":0},"axis":null},
     "xOffset":{"field":"slot","type":"ordinal","scale":{"domain":[37,35,33,31,29,27,25,23,21,19,17,15,13,11,9,7,5,3,1,2,4,6,8,10,12,14,16,18,20,22,24,26,28,30,32,34,36]}},
     "y":{"field":"v","type":"quantitative","scale":{"domain":[0,2000],"nice":false},"axis":{"values":[0,500,1000,1500,2000],"format":"d","title":"IL-2 level (pg/ml)"}},
     "shape":{"field":"g","type":"nominal","scale":{"domain":["Stage one","Stage two","Stage three"],"range":["circle","square","triangle-up"]},"legend":null}}},
   {"data":{"name":"summ"},"transform":[{"filter":"datum.p === 'D'"}],
    "mark":{"type":"tick","orient":"horizontal","size":76,"thickness":1.5,"color":"black","opacity":1},
    "encoding":{"x":{"field":"g","type":"nominal","scale":{"type":"band","domain":["Stage one","Stage two","Stage three"],"paddingInner":0,"paddingOuter":0},"axis":null},
     "y":{"field":"mean","type":"quantitative","scale":{"domain":[0,2000],"nice":false},"axis":{"values":[0,500,1000,1500,2000],"format":"d","title":"IL-2 level (pg/ml)"}}}},
   {"data":{"name":"summ"},"transform":[{"filter":"datum.p === 'D'"}],
    "mark":{"type":"tick","orient":"horizontal","size":39,"thickness":2,"color":"black","opacity":1},
    "encoding":{"x":{"field":"g","type":"nominal","scale":{"type":"band","domain":["Stage one","Stage two","Stage three"],"paddingInner":0,"paddingOuter":0},"axis":null},
     "y":{"field":"hi","type":"quantitative","scale":{"domain":[0,2000],"nice":false},"axis":{"values":[0,500,1000,1500,2000],"format":"d","title":"IL-2 level (pg/ml)"}}}},
   {"data":{"name":"summ"},"transform":[{"filter":"datum.p === 'D'"}],
    "mark":{"type":"tick","orient":"horizontal","size":39,"thickness":2,"color":"black","opacity":1},
    "encoding":{"x":{"field":"g","type":"nominal","scale":{"type":"band","domain":["Stage one","Stage two","Stage three"],"paddingInner":0,"paddingOuter":0},"axis":null},
     "y":{"field":"lo","type":"quantitative","scale":{"domain":[0,2000],"nice":false},"axis":{"values":[0,500,1000,1500,2000],"format":"d","title":"IL-2 level (pg/ml)"}}}},
   {"data":{"name":"summ"},"transform":[{"filter":"datum.p === 'D'"}],
    "mark":{"type":"rule","strokeWidth":2,"color":"black"},
    "encoding":{"x":{"field":"g","type":"nominal","scale":{"type":"band","domain":["Stage one","Stage two","Stage three"],"paddingInner":0,"paddingOuter":0},"axis":null},
     "y":{"field":"lo","type":"quantitative","scale":{"domain":[0,2000],"nice":false},"axis":{"values":[0,500,1000,1500,2000],"format":"d","title":"IL-2 level (pg/ml)"}},"y2":{"field":"hi"}}}
  ]},
 {"title":{"text":"E","offset":-9},"width":303,"height":268,
  "resolve":{"scale":{"x":"independent","xOffset":"independent"}},
  "layer":[
   {"data":{"name":"pts"},
    "transform":[{"filter":"datum.p === 'E' && datum.v >= 0.3"},{"bin":{"step":0.5},"field":"v","as":"vb"},{"window":[{"op":"row_number","as":"slot"}],"groupby":["g","vb"],"sort":[{"field":"v"}]}],
    "mark":{"type":"point","filled":true,"opacity":1,"size":40,"color":"black","strokeWidth":0},
    "encoding":{
     "x":{"field":"g","type":"nominal","scale":{"type":"band","domain":["Stage one","Stage two","Stage three"],"paddingInner":0,"paddingOuter":0},"axis":{"title":null}},
     "xOffset":{"field":"slot","type":"ordinal","scale":{"domain":[15,13,11,9,7,5,3,1,2,4,6,8,10,12,14]}},
     "y":{"field":"v","type":"quantitative","scale":{"domain":[0,20],"nice":false},"axis":{"values":[0,5,10,15,20],"format":"d","title":"IL-6 level (pg/ml)"}},
     "shape":{"field":"g","type":"nominal","scale":{"domain":["Stage one","Stage two","Stage three"],"range":["circle","square","triangle-up"]},"legend":null}}},
   {"data":{"name":"pts"},
    "transform":[{"filter":"datum.p === 'E' && datum.v < 0.3"},{"window":[{"op":"row_number","as":"slot"}],"groupby":["g"],"sort":[{"field":"v"}]}],
    "mark":{"type":"point","filled":true,"opacity":1,"size":40,"color":"black","strokeWidth":0},
    "encoding":{
     "x":{"field":"g","type":"nominal","scale":{"type":"band","domain":["Stage one","Stage two","Stage three"],"paddingInner":0,"paddingOuter":0},"axis":null},
     "xOffset":{"field":"slot","type":"ordinal","scale":{"domain":[45,43,41,39,37,35,33,31,29,27,25,23,21,19,17,15,13,11,9,7,5,3,1,2,4,6,8,10,12,14,16,18,20,22,24,26,28,30,32,34,36,38,40,42,44]}},
     "y":{"field":"v","type":"quantitative","scale":{"domain":[0,20],"nice":false},"axis":{"values":[0,5,10,15,20],"format":"d","title":"IL-6 level (pg/ml)"}},
     "shape":{"field":"g","type":"nominal","scale":{"domain":["Stage one","Stage two","Stage three"],"range":["circle","square","triangle-up"]},"legend":null}}},
   {"data":{"name":"summ"},"transform":[{"filter":"datum.p === 'E'"}],
    "mark":{"type":"tick","orient":"horizontal","size":60,"thickness":1.5,"color":"black","opacity":1},
    "encoding":{"x":{"field":"g","type":"nominal","scale":{"type":"band","domain":["Stage one","Stage two","Stage three"],"paddingInner":0,"paddingOuter":0},"axis":null},
     "y":{"field":"mean","type":"quantitative","scale":{"domain":[0,20],"nice":false},"axis":{"values":[0,5,10,15,20],"format":"d","title":"IL-6 level (pg/ml)"}}}},
   {"data":{"name":"summ"},"transform":[{"filter":"datum.p === 'E'"}],
    "mark":{"type":"tick","orient":"horizontal","size":28,"thickness":2,"color":"black","opacity":1},
    "encoding":{"x":{"field":"g","type":"nominal","scale":{"type":"band","domain":["Stage one","Stage two","Stage three"],"paddingInner":0,"paddingOuter":0},"axis":null},
     "y":{"field":"hi","type":"quantitative","scale":{"domain":[0,20],"nice":false},"axis":{"values":[0,5,10,15,20],"format":"d","title":"IL-6 level (pg/ml)"}}}},
   {"data":{"name":"summ"},"transform":[{"filter":"datum.p === 'E'"}],
    "mark":{"type":"tick","orient":"horizontal","size":28,"thickness":2,"color":"black","opacity":1},
    "encoding":{"x":{"field":"g","type":"nominal","scale":{"type":"band","domain":["Stage one","Stage two","Stage three"],"paddingInner":0,"paddingOuter":0},"axis":null},
     "y":{"field":"lo","type":"quantitative","scale":{"domain":[0,20],"nice":false},"axis":{"values":[0,5,10,15,20],"format":"d","title":"IL-6 level (pg/ml)"}}}},
   {"data":{"name":"summ"},"transform":[{"filter":"datum.p === 'E'"}],
    "mark":{"type":"rule","strokeWidth":2,"color":"black"},
    "encoding":{"x":{"field":"g","type":"nominal","scale":{"type":"band","domain":["Stage one","Stage two","Stage three"],"paddingInner":0,"paddingOuter":0},"axis":null},
     "y":{"field":"lo","type":"quantitative","scale":{"domain":[0,20],"nice":false},"axis":{"values":[0,5,10,15,20],"format":"d","title":"IL-6 level (pg/ml)"}},"y2":{"field":"hi"}}}
  ]},
 {"title":{"text":"F","offset":0},"width":314,"height":268,
  "resolve":{"scale":{"x":"independent","xOffset":"independent"}},
  "layer":[
   {"data":{"name":"pts"},
    "transform":[{"filter":"datum.p === 'F'"},{"bin":{"step":4},"field":"v","as":"vb"},{"window":[{"op":"row_number","as":"slot"}],"groupby":["g","vb"],"sort":[{"field":"v"}]}],
    "mark":{"type":"point","filled":true,"opacity":1,"size":40,"color":"black","strokeWidth":0},
    "encoding":{
     "x":{"field":"g","type":"nominal","scale":{"type":"band","domain":["Stage one","Stage two","Stage three"],"paddingInner":0,"paddingOuter":0},"axis":{"title":null}},
     "xOffset":{"field":"slot","type":"ordinal","scale":{"domain":[17,15,13,11,9,7,5,3,1,2,4,6,8,10,12,14,16]}},
     "y":{"field":"v","type":"quantitative","scale":{"domain":[0,200],"nice":false},"axis":{"values":[0,50,100,150,200],"format":"d","title":"IL-8 level (pg/ml)"}},
     "shape":{"field":"g","type":"nominal","scale":{"domain":["Stage one","Stage two","Stage three"],"range":["circle","square","triangle-up"]},"legend":null}}},
   {"data":{"name":"summ"},"transform":[{"filter":"datum.p === 'F'"}],
    "mark":{"type":"tick","orient":"horizontal","size":72,"thickness":1.5,"color":"black","opacity":1},
    "encoding":{"x":{"field":"g","type":"nominal","scale":{"type":"band","domain":["Stage one","Stage two","Stage three"],"paddingInner":0,"paddingOuter":0},"axis":null},
     "y":{"field":"mean","type":"quantitative","scale":{"domain":[0,200],"nice":false},"axis":{"values":[0,50,100,150,200],"format":"d","title":"IL-8 level (pg/ml)"}}}},
   {"data":{"name":"summ"},"transform":[{"filter":"datum.p === 'F'"}],
    "mark":{"type":"tick","orient":"horizontal","size":32,"thickness":2,"color":"black","opacity":1},
    "encoding":{"x":{"field":"g","type":"nominal","scale":{"type":"band","domain":["Stage one","Stage two","Stage three"],"paddingInner":0,"paddingOuter":0},"axis":null},
     "y":{"field":"hi","type":"quantitative","scale":{"domain":[0,200],"nice":false},"axis":{"values":[0,50,100,150,200],"format":"d","title":"IL-8 level (pg/ml)"}}}},
   {"data":{"name":"summ"},"transform":[{"filter":"datum.p === 'F'"}],
    "mark":{"type":"tick","orient":"horizontal","size":32,"thickness":2,"color":"black","opacity":1},
    "encoding":{"x":{"field":"g","type":"nominal","scale":{"type":"band","domain":["Stage one","Stage two","Stage three"],"paddingInner":0,"paddingOuter":0},"axis":null},
     "y":{"field":"lo","type":"quantitative","scale":{"domain":[0,200],"nice":false},"axis":{"values":[0,50,100,150,200],"format":"d","title":"IL-8 level (pg/ml)"}}}},
   {"data":{"name":"summ"},"transform":[{"filter":"datum.p === 'F'"}],
    "mark":{"type":"rule","strokeWidth":2,"color":"black"},
    "encoding":{"x":{"field":"g","type":"nominal","scale":{"type":"band","domain":["Stage one","Stage two","Stage three"],"paddingInner":0,"paddingOuter":0},"axis":null},
     "y":{"field":"lo","type":"quantitative","scale":{"domain":[0,200],"nice":false},"axis":{"values":[0,50,100,150,200],"format":"d","title":"IL-8 level (pg/ml)"}},"y2":{"field":"hi"}}}
  ]}
]
}
